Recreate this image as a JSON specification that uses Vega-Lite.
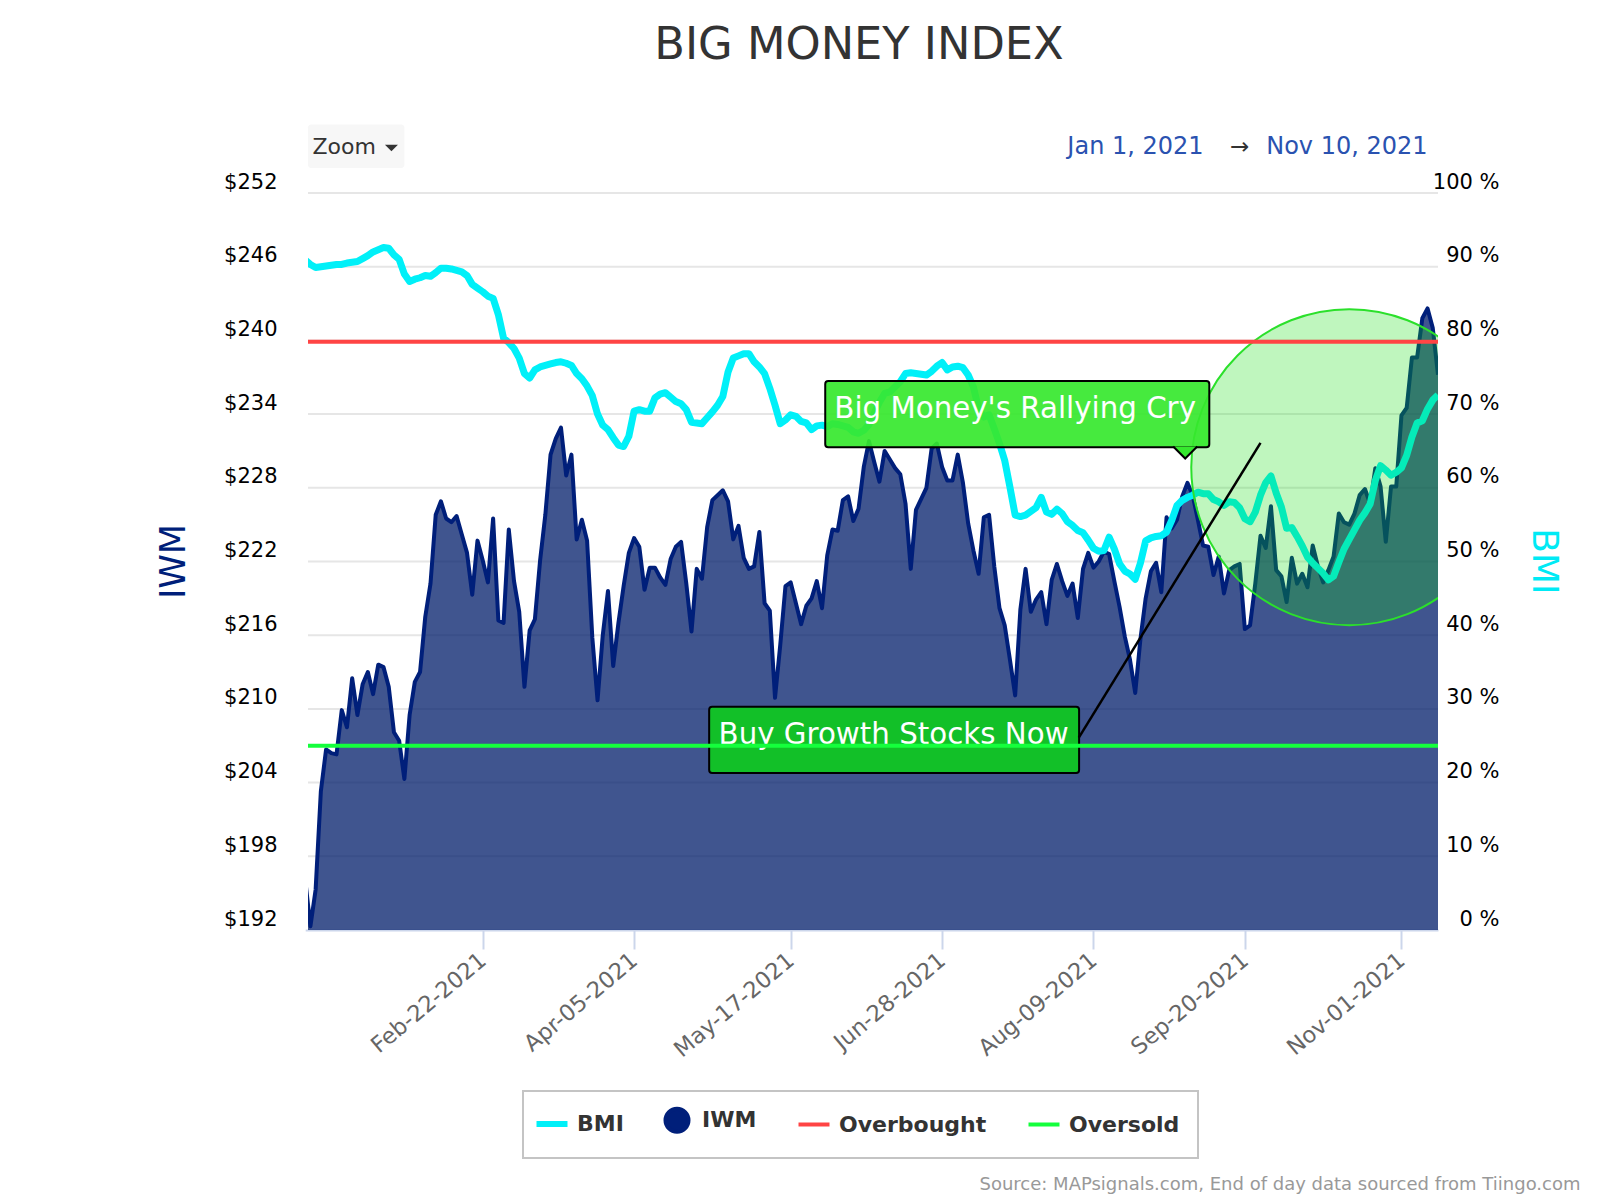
{"$schema":"https://vega.github.io/schema/vega-lite/v6.json","width":1130,"height":737,"autosize":{"type":"none"},"padding":{"left":308,"top":193,"right":162,"bottom":270},"background":"#ffffff",
"title":{"text":"BIG MONEY INDEX","font":"DejaVu Sans","fontSize":44.7,"fontWeight":"normal","color":"#333333","anchor":"middle","frame":"group","dx":-14,"offset":56},
"datasets":{"rows":[
{"date":"Dec-31-2020","iwm":196.1,"bmi":90.9},{"date":"Jan-04-2021","iwm":192.3,"bmi":90.3},{"date":"Jan-05-2021","iwm":195.3,"bmi":89.9},{"date":"Jan-06-2021","iwm":203.3,"bmi":90.0},{"date":"Jan-07-2021","iwm":206.7,"bmi":90.1},{"date":"Jan-08-2021","iwm":206.4,"bmi":90.2},{"date":"Jan-11-2021","iwm":206.3,"bmi":90.3},{"date":"Jan-12-2021","iwm":209.9,"bmi":90.3},{"date":"Jan-13-2021","iwm":208.5,"bmi":90.5},{"date":"Jan-14-2021","iwm":212.5,"bmi":90.6},{"date":"Jan-15-2021","iwm":209.5,"bmi":90.7},{"date":"Jan-19-2021","iwm":212.0,"bmi":91.1},{"date":"Jan-20-2021","iwm":213.0,"bmi":91.5},{"date":"Jan-21-2021","iwm":211.2,"bmi":92.0},{"date":"Jan-22-2021","iwm":213.6,"bmi":92.3},{"date":"Jan-25-2021","iwm":213.4,"bmi":92.6},{"date":"Jan-26-2021","iwm":211.8,"bmi":92.5},{"date":"Jan-27-2021","iwm":208.1,"bmi":91.6},{"date":"Jan-28-2021","iwm":207.4,"bmi":91.0},{"date":"Jan-29-2021","iwm":204.3,"bmi":89.0},
{"date":"Feb-01-2021","iwm":209.5,"bmi":88.0},{"date":"Feb-02-2021","iwm":212.2,"bmi":88.3},{"date":"Feb-03-2021","iwm":213.0,"bmi":88.5},{"date":"Feb-04-2021","iwm":217.5,"bmi":88.8},{"date":"Feb-05-2021","iwm":220.2,"bmi":88.7},{"date":"Feb-08-2021","iwm":225.8,"bmi":89.2},{"date":"Feb-09-2021","iwm":226.9,"bmi":89.8},{"date":"Feb-10-2021","iwm":225.5,"bmi":89.8},{"date":"Feb-11-2021","iwm":225.2,"bmi":89.7},{"date":"Feb-12-2021","iwm":225.7,"bmi":89.5},{"date":"Feb-16-2021","iwm":224.2,"bmi":89.3},{"date":"Feb-17-2021","iwm":222.7,"bmi":88.8},{"date":"Feb-18-2021","iwm":219.3,"bmi":87.6},{"date":"Feb-19-2021","iwm":223.7,"bmi":87.1},{"date":"Feb-22-2021","iwm":222.1,"bmi":86.6},{"date":"Feb-23-2021","iwm":220.3,"bmi":86.0},{"date":"Feb-24-2021","iwm":225.5,"bmi":85.7},{"date":"Feb-25-2021","iwm":217.2,"bmi":83.5},{"date":"Feb-26-2021","iwm":217.0,"bmi":80.3},
{"date":"Mar-01-2021","iwm":224.6,"bmi":79.7},{"date":"Mar-02-2021","iwm":220.4,"bmi":78.9},{"date":"Mar-03-2021","iwm":217.9,"bmi":77.6},{"date":"Mar-04-2021","iwm":211.8,"bmi":75.5},{"date":"Mar-05-2021","iwm":216.4,"bmi":74.9},{"date":"Mar-08-2021","iwm":217.3,"bmi":76.0},{"date":"Mar-09-2021","iwm":222.1,"bmi":76.4},{"date":"Mar-10-2021","iwm":225.8,"bmi":76.6},{"date":"Mar-11-2021","iwm":230.7,"bmi":76.8},{"date":"Mar-12-2021","iwm":232.0,"bmi":77.0},{"date":"Mar-15-2021","iwm":232.9,"bmi":77.1},{"date":"Mar-16-2021","iwm":229.0,"bmi":76.9},{"date":"Mar-17-2021","iwm":230.7,"bmi":76.6},{"date":"Mar-18-2021","iwm":223.8,"bmi":75.5},{"date":"Mar-19-2021","iwm":225.4,"bmi":74.8},{"date":"Mar-22-2021","iwm":223.7,"bmi":73.8},{"date":"Mar-23-2021","iwm":215.8,"bmi":72.5},{"date":"Mar-24-2021","iwm":210.7,"bmi":70.0},{"date":"Mar-25-2021","iwm":216.0,"bmi":68.5},{"date":"Mar-26-2021","iwm":219.6,"bmi":67.9},{"date":"Mar-29-2021","iwm":213.5,"bmi":66.8},{"date":"Mar-30-2021","iwm":217.0,"bmi":65.8},{"date":"Mar-31-2021","iwm":220.0,"bmi":65.6},
{"date":"Apr-01-2021","iwm":222.7,"bmi":67.0},{"date":"Apr-05-2021","iwm":223.9,"bmi":70.4},{"date":"Apr-06-2021","iwm":223.2,"bmi":70.6},{"date":"Apr-07-2021","iwm":219.7,"bmi":70.4},{"date":"Apr-08-2021","iwm":221.5,"bmi":70.4},{"date":"Apr-09-2021","iwm":221.5,"bmi":72.2},{"date":"Apr-12-2021","iwm":220.7,"bmi":72.7},{"date":"Apr-13-2021","iwm":220.1,"bmi":72.9},{"date":"Apr-14-2021","iwm":222.2,"bmi":72.3},{"date":"Apr-15-2021","iwm":223.2,"bmi":71.7},{"date":"Apr-16-2021","iwm":223.6,"bmi":71.4},{"date":"Apr-19-2021","iwm":220.2,"bmi":70.6},{"date":"Apr-20-2021","iwm":216.3,"bmi":68.9},{"date":"Apr-21-2021","iwm":221.4,"bmi":68.8},{"date":"Apr-22-2021","iwm":220.6,"bmi":68.7},{"date":"Apr-23-2021","iwm":224.8,"bmi":69.5},{"date":"Apr-26-2021","iwm":227.0,"bmi":70.3},{"date":"Apr-27-2021","iwm":227.4,"bmi":71.2},{"date":"Apr-28-2021","iwm":227.8,"bmi":72.4},{"date":"Apr-29-2021","iwm":226.9,"bmi":75.7},{"date":"Apr-30-2021","iwm":223.8,"bmi":77.6},
{"date":"May-03-2021","iwm":224.9,"bmi":77.9},{"date":"May-04-2021","iwm":222.3,"bmi":78.2},{"date":"May-05-2021","iwm":221.4,"bmi":78.2},{"date":"May-06-2021","iwm":221.6,"bmi":77.1},{"date":"May-07-2021","iwm":224.4,"bmi":76.4},{"date":"May-10-2021","iwm":218.6,"bmi":75.5},{"date":"May-11-2021","iwm":218.0,"bmi":73.5},{"date":"May-12-2021","iwm":210.9,"bmi":71.2},{"date":"May-13-2021","iwm":215.2,"bmi":68.7},{"date":"May-14-2021","iwm":220.0,"bmi":69.2},{"date":"May-17-2021","iwm":220.3,"bmi":69.9},{"date":"May-18-2021","iwm":218.6,"bmi":69.7},{"date":"May-19-2021","iwm":216.9,"bmi":69.0},{"date":"May-20-2021","iwm":218.4,"bmi":68.8},{"date":"May-21-2021","iwm":219.0,"bmi":67.9},{"date":"May-24-2021","iwm":220.4,"bmi":68.4},{"date":"May-25-2021","iwm":218.2,"bmi":68.5},{"date":"May-26-2021","iwm":222.5,"bmi":68.3},{"date":"May-27-2021","iwm":224.6,"bmi":68.7},{"date":"May-28-2021","iwm":224.5,"bmi":68.6},
{"date":"Jun-01-2021","iwm":227.0,"bmi":68.4},{"date":"Jun-02-2021","iwm":227.3,"bmi":68.2},{"date":"Jun-03-2021","iwm":225.3,"bmi":67.6},{"date":"Jun-04-2021","iwm":226.3,"bmi":67.4},{"date":"Jun-07-2021","iwm":229.7,"bmi":67.8},{"date":"Jun-08-2021","iwm":231.8,"bmi":68.6},{"date":"Jun-09-2021","iwm":230.1,"bmi":70.1},{"date":"Jun-10-2021","iwm":228.5,"bmi":71.6},{"date":"Jun-11-2021","iwm":231.0,"bmi":72.8},{"date":"Jun-14-2021","iwm":230.3,"bmi":73.0},{"date":"Jun-15-2021","iwm":229.6,"bmi":73.7},{"date":"Jun-16-2021","iwm":229.1,"bmi":74.4},{"date":"Jun-17-2021","iwm":226.7,"bmi":75.5},{"date":"Jun-18-2021","iwm":221.4,"bmi":75.6},{"date":"Jun-21-2021","iwm":226.2,"bmi":75.5},{"date":"Jun-22-2021","iwm":227.1,"bmi":75.4},{"date":"Jun-23-2021","iwm":228.0,"bmi":75.3},{"date":"Jun-24-2021","iwm":231.2,"bmi":75.8},{"date":"Jun-25-2021","iwm":231.6,"bmi":76.5},{"date":"Jun-28-2021","iwm":229.7,"bmi":77.0},{"date":"Jun-29-2021","iwm":228.6,"bmi":76.0},{"date":"Jun-30-2021","iwm":228.6,"bmi":76.4},
{"date":"Jul-01-2021","iwm":230.7,"bmi":76.5},{"date":"Jul-02-2021","iwm":228.4,"bmi":76.3},{"date":"Jul-06-2021","iwm":225.1,"bmi":75.3},{"date":"Jul-07-2021","iwm":222.9,"bmi":73.7},{"date":"Jul-08-2021","iwm":221.0,"bmi":70.7},{"date":"Jul-09-2021","iwm":225.6,"bmi":69.6},{"date":"Jul-12-2021","iwm":225.8,"bmi":69.9},{"date":"Jul-13-2021","iwm":221.6,"bmi":68.0},{"date":"Jul-14-2021","iwm":218.2,"bmi":66.0},{"date":"Jul-15-2021","iwm":216.8,"bmi":63.7},{"date":"Jul-16-2021","iwm":214.0,"bmi":60.1},{"date":"Jul-19-2021","iwm":211.1,"bmi":56.3},{"date":"Jul-20-2021","iwm":218.1,"bmi":56.1},{"date":"Jul-21-2021","iwm":221.4,"bmi":56.3},{"date":"Jul-22-2021","iwm":217.9,"bmi":56.8},{"date":"Jul-23-2021","iwm":218.9,"bmi":57.3},{"date":"Jul-26-2021","iwm":219.5,"bmi":58.7},{"date":"Jul-27-2021","iwm":216.9,"bmi":56.7},{"date":"Jul-28-2021","iwm":220.5,"bmi":56.4},{"date":"Jul-29-2021","iwm":221.8,"bmi":57.1},{"date":"Jul-30-2021","iwm":220.4,"bmi":56.5},
{"date":"Aug-02-2021","iwm":219.2,"bmi":55.4},{"date":"Aug-03-2021","iwm":220.2,"bmi":54.9},{"date":"Aug-04-2021","iwm":217.4,"bmi":54.2},{"date":"Aug-05-2021","iwm":221.4,"bmi":53.9},{"date":"Aug-06-2021","iwm":222.7,"bmi":52.9},{"date":"Aug-09-2021","iwm":221.5,"bmi":51.8},{"date":"Aug-10-2021","iwm":222.0,"bmi":51.4},{"date":"Aug-11-2021","iwm":222.8,"bmi":51.5},{"date":"Aug-12-2021","iwm":222.6,"bmi":53.3},{"date":"Aug-13-2021","iwm":220.4,"bmi":51.7},{"date":"Aug-16-2021","iwm":218.3,"bmi":49.7},{"date":"Aug-17-2021","iwm":215.9,"bmi":48.7},{"date":"Aug-18-2021","iwm":214.0,"bmi":48.3},{"date":"Aug-19-2021","iwm":211.3,"bmi":47.6},{"date":"Aug-20-2021","iwm":215.7,"bmi":49.8},{"date":"Aug-23-2021","iwm":219.0,"bmi":52.8},{"date":"Aug-24-2021","iwm":221.2,"bmi":53.2},{"date":"Aug-25-2021","iwm":221.9,"bmi":53.4},{"date":"Aug-26-2021","iwm":219.5,"bmi":53.5},{"date":"Aug-27-2021","iwm":225.6,"bmi":54.0},{"date":"Aug-30-2021","iwm":224.7,"bmi":55.6},{"date":"Aug-31-2021","iwm":225.4,"bmi":57.6},
{"date":"Sep-01-2021","iwm":227.3,"bmi":58.3},{"date":"Sep-02-2021","iwm":228.4,"bmi":58.7},{"date":"Sep-03-2021","iwm":227.4,"bmi":59.0},{"date":"Sep-07-2021","iwm":225.4,"bmi":59.4},{"date":"Sep-08-2021","iwm":223.3,"bmi":59.2},{"date":"Sep-09-2021","iwm":223.2,"bmi":59.2},{"date":"Sep-10-2021","iwm":220.9,"bmi":58.4},{"date":"Sep-13-2021","iwm":222.4,"bmi":58.1},{"date":"Sep-14-2021","iwm":219.4,"bmi":57.6},{"date":"Sep-15-2021","iwm":221.3,"bmi":58.1},{"date":"Sep-16-2021","iwm":221.6,"bmi":58.0},{"date":"Sep-17-2021","iwm":221.8,"bmi":57.3},{"date":"Sep-20-2021","iwm":216.5,"bmi":55.8},{"date":"Sep-21-2021","iwm":216.8,"bmi":55.4},{"date":"Sep-22-2021","iwm":220.2,"bmi":56.7},{"date":"Sep-23-2021","iwm":224.1,"bmi":59.0},{"date":"Sep-24-2021","iwm":223.1,"bmi":60.7},{"date":"Sep-27-2021","iwm":226.5,"bmi":61.6},{"date":"Sep-28-2021","iwm":221.3,"bmi":59.3},{"date":"Sep-29-2021","iwm":220.8,"bmi":57.4},{"date":"Sep-30-2021","iwm":218.7,"bmi":54.5},
{"date":"Oct-01-2021","iwm":222.3,"bmi":54.6},{"date":"Oct-04-2021","iwm":220.2,"bmi":53.4},{"date":"Oct-05-2021","iwm":221.0,"bmi":52.1},{"date":"Oct-06-2021","iwm":219.9,"bmi":50.6},{"date":"Oct-07-2021","iwm":223.3,"bmi":49.8},{"date":"Oct-08-2021","iwm":221.6,"bmi":49.1},{"date":"Oct-11-2021","iwm":220.3,"bmi":48.4},{"date":"Oct-12-2021","iwm":221.3,"bmi":47.5},{"date":"Oct-13-2021","iwm":222.4,"bmi":48.0},{"date":"Oct-14-2021","iwm":225.9,"bmi":49.9},{"date":"Oct-15-2021","iwm":225.2,"bmi":51.7},{"date":"Oct-18-2021","iwm":225.0,"bmi":53.0},{"date":"Oct-19-2021","iwm":225.9,"bmi":54.3},{"date":"Oct-20-2021","iwm":227.4,"bmi":55.6},{"date":"Oct-21-2021","iwm":227.9,"bmi":56.6},{"date":"Oct-22-2021","iwm":226.7,"bmi":57.8},{"date":"Oct-25-2021","iwm":229.6,"bmi":61.0},{"date":"Oct-26-2021","iwm":228.1,"bmi":63.0},{"date":"Oct-27-2021","iwm":223.6,"bmi":62.4},{"date":"Oct-28-2021","iwm":228.1,"bmi":61.7},{"date":"Oct-29-2021","iwm":228.1,"bmi":62.1},
{"date":"Nov-01-2021","iwm":233.9,"bmi":62.7},{"date":"Nov-02-2021","iwm":234.5,"bmi":64.4},{"date":"Nov-03-2021","iwm":238.6,"bmi":66.9},{"date":"Nov-04-2021","iwm":238.6,"bmi":68.8},{"date":"Nov-05-2021","iwm":241.8,"bmi":69.1},{"date":"Nov-08-2021","iwm":242.6,"bmi":70.7},{"date":"Nov-09-2021","iwm":241.0,"bmi":71.9},{"date":"Nov-10-2021","iwm":237.2,"bmi":72.6}
]},
"encoding":{"x":{"field":"date","type":"ordinal","title":"Source: MAPsignals.com, End of day data sourced from Tiingo.com",
"scale":{"type":"point","padding":0,"range":[-2.8,1130],"domain":["Dec-31-2020","Jan-04-2021","Jan-05-2021","Jan-06-2021","Jan-07-2021","Jan-08-2021","Jan-11-2021","Jan-12-2021","Jan-13-2021","Jan-14-2021","Jan-15-2021","Jan-19-2021","Jan-20-2021","Jan-21-2021","Jan-22-2021","Jan-25-2021","Jan-26-2021","Jan-27-2021","Jan-28-2021","Jan-29-2021","Feb-01-2021","Feb-02-2021","Feb-03-2021","Feb-04-2021","Feb-05-2021","Feb-08-2021","Feb-09-2021","Feb-10-2021","Feb-11-2021","Feb-12-2021","Feb-16-2021","Feb-17-2021","Feb-18-2021","Feb-19-2021","Feb-22-2021","Feb-23-2021","Feb-24-2021","Feb-25-2021","Feb-26-2021","Mar-01-2021","Mar-02-2021","Mar-03-2021","Mar-04-2021","Mar-05-2021","Mar-08-2021","Mar-09-2021","Mar-10-2021","Mar-11-2021","Mar-12-2021","Mar-15-2021","Mar-16-2021","Mar-17-2021","Mar-18-2021","Mar-19-2021","Mar-22-2021","Mar-23-2021","Mar-24-2021","Mar-25-2021","Mar-26-2021","Mar-29-2021","Mar-30-2021","Mar-31-2021","Apr-01-2021","Apr-05-2021","Apr-06-2021","Apr-07-2021","Apr-08-2021","Apr-09-2021","Apr-12-2021","Apr-13-2021","Apr-14-2021","Apr-15-2021","Apr-16-2021","Apr-19-2021","Apr-20-2021","Apr-21-2021","Apr-22-2021","Apr-23-2021","Apr-26-2021","Apr-27-2021","Apr-28-2021","Apr-29-2021","Apr-30-2021","May-03-2021","May-04-2021","May-05-2021","May-06-2021","May-07-2021","May-10-2021","May-11-2021","May-12-2021","May-13-2021","May-14-2021","May-17-2021","May-18-2021","May-19-2021","May-20-2021","May-21-2021","May-24-2021","May-25-2021","May-26-2021","May-27-2021","May-28-2021","Jun-01-2021","Jun-02-2021","Jun-03-2021","Jun-04-2021","Jun-07-2021","Jun-08-2021","Jun-09-2021","Jun-10-2021","Jun-11-2021","Jun-14-2021","Jun-15-2021","Jun-16-2021","Jun-17-2021","Jun-18-2021","Jun-21-2021","Jun-22-2021","Jun-23-2021","Jun-24-2021","Jun-25-2021","Jun-28-2021","Jun-29-2021","Jun-30-2021","Jul-01-2021","Jul-02-2021","Jul-06-2021","Jul-07-2021","Jul-08-2021","Jul-09-2021","Jul-12-2021","Jul-13-2021","Jul-14-2021","Jul-15-2021","Jul-16-2021","Jul-19-2021","Jul-20-2021","Jul-21-2021","Jul-22-2021","Jul-23-2021","Jul-26-2021","Jul-27-2021","Jul-28-2021","Jul-29-2021","Jul-30-2021","Aug-02-2021","Aug-03-2021","Aug-04-2021","Aug-05-2021","Aug-06-2021","Aug-09-2021","Aug-10-2021","Aug-11-2021","Aug-12-2021","Aug-13-2021","Aug-16-2021","Aug-17-2021","Aug-18-2021","Aug-19-2021","Aug-20-2021","Aug-23-2021","Aug-24-2021","Aug-25-2021","Aug-26-2021","Aug-27-2021","Aug-30-2021","Aug-31-2021","Sep-01-2021","Sep-02-2021","Sep-03-2021","Sep-07-2021","Sep-08-2021","Sep-09-2021","Sep-10-2021","Sep-13-2021","Sep-14-2021","Sep-15-2021","Sep-16-2021","Sep-17-2021","Sep-20-2021","Sep-21-2021","Sep-22-2021","Sep-23-2021","Sep-24-2021","Sep-27-2021","Sep-28-2021","Sep-29-2021","Sep-30-2021","Oct-01-2021","Oct-04-2021","Oct-05-2021","Oct-06-2021","Oct-07-2021","Oct-08-2021","Oct-11-2021","Oct-12-2021","Oct-13-2021","Oct-14-2021","Oct-15-2021","Oct-18-2021","Oct-19-2021","Oct-20-2021","Oct-21-2021","Oct-22-2021","Oct-25-2021","Oct-26-2021","Oct-27-2021","Oct-28-2021","Oct-29-2021","Nov-01-2021","Nov-02-2021","Nov-03-2021","Nov-04-2021","Nov-05-2021","Nov-08-2021","Nov-09-2021","Nov-10-2021"]},
"axis":{"values":["Feb-22-2021","Apr-05-2021","May-17-2021","Jun-28-2021","Aug-09-2021","Sep-20-2021","Nov-01-2021"],"grid":false,"domain":true,"domainColor":"#ccd6eb","domainWidth":2,"ticks":true,"tickColor":"#ccd6eb","tickWidth":2,"tickSize":19,"labelAngle":-40,"labelAlign":"right","labelBaseline":"middle","labelFont":"DejaVu Sans","labelFontSize":22.5,"labelColor":"#666666","labelPadding":8,"labelOverlap":false,"titleFont":"DejaVu Sans","titleFontSize":18,"titleFontWeight":"normal","titleColor":"#999999","titleAlign":"right","titleAnchor":null,"titleX":1272,"titleY":254,"titleBaseline":"middle"}}},
"layer":[
{"layer":[
{"data":{"values":[{"g":198},{"g":204},{"g":210},{"g":216},{"g":222},{"g":228},{"g":234},{"g":240},{"g":246},{"g":252}]},"mark":{"type":"rule","color":"#e6e6e6","strokeWidth":2},"encoding":{"x":null,"y":{"field":"g","type":"quantitative"}}},
{"data":{"name":"rows"},"mark":{"type":"area","clip":true,"fill":"#001c6a","fillOpacity":0.75,"stroke":null},"encoding":{"y":{"field":"iwm","type":"quantitative","scale":{"domain":[192,252],"nice":false,"zero":false},"axis":{"orient":"left","title":"IWM","values":[192,198,204,210,216,222,228,234,240,246,252],"format":"$.0f","grid":false,"domain":false,"ticks":false,"labelFont":"DejaVu Sans","labelFontSize":21,"labelColor":"#000000","labelPadding":31,"labelOffset":-11,"titleFont":"DejaVu Sans","titleFontSize":35,"titleFontWeight":"normal","titleColor":"#001f7a","titleX":-135,"titleY":368,"titleAngle":-90,"titleBaseline":"middle","titleAlign":"center"}}}},
{"data":{"name":"rows"},"mark":{"type":"line","clip":true,"strokeWidth":4,"strokeJoin":"round"},"encoding":{"y":{"field":"iwm","type":"quantitative"},"color":{"datum":"IWM","type":"nominal","scale":{"domain":["BMI","IWM","Overbought","Oversold"],"range":["#00f0f8","#001f7a","#ff4444","#14ff3c"]},"legend":{"orient":"none","legendX":215,"legendY":898,"direction":"horizontal","columns":4,"title":null,"symbolType":"stroke","symbolSize":529,"symbolStrokeWidth":4,"labelFont":"DejaVu Sans","labelFontWeight":"bold","labelFontSize":22,"labelColor":"#333333","fillColor":"#ffffff","strokeColor":"#c4c4c4","padding":18,"columnPadding":33,"labelOffset":14,"encoding":{"legend":{"strokeWidth":{"value":2}},"symbols":{"shape":{"value":{"signal":"datum.value==='IWM'?'circle':'stroke'"}},"size":{"value":{"signal":"datum.value==='IWM'?529:961"}},"strokeWidth":{"value":{"signal":"datum.value==='BMI'?6:4"}},"fill":{"value":{"signal":"datum.value==='IWM'?'#001f7a':'transparent'"}}}}}}}}
]},
{"layer":[
{"data":{"name":"rows"},"mark":{"type":"line","clip":true,"strokeWidth":7,"strokeJoin":"round"},"encoding":{"y":{"field":"bmi","type":"quantitative","scale":{"domain":[0,100],"nice":false},"axis":{"orient":"right","title":"BMI","values":[0,10,20,30,40,50,60,70,80,90,100],"labelExpr":"datum.value + ' %'","grid":false,"domain":false,"ticks":false,"labelFont":"DejaVu Sans","labelFontSize":21,"labelColor":"#000000","labelAlign":"right","labelPadding":61,"labelOffset":-11,"titleFont":"DejaVu Sans","titleFontSize":36,"titleFontWeight":"normal","titleColor":"#00eaf5","titleX":105,"titleY":368,"titleAngle":90,"titleBaseline":"middle","titleAlign":"center"}},
"color":{"datum":"BMI","type":"nominal","scale":{"domain":["BMI","IWM","Overbought","Oversold"],"range":["#00f0f8","#001f7a","#ff4444","#14ff3c"]}}}},
{"data":{"values":[{}]},"mark":{"type":"point","clip":true,"shape":"circle","filled":true,"size":99856,"fill":"#12de10","fillOpacity":0.27,"stroke":"#2be02b","strokeWidth":2,"strokeOpacity":1},"encoding":{"x":{"datum":"Oct-18-2021","type":"ordinal"},"y":{"datum":62.8,"type":"quantitative"}}},
{"data":{"values":[{}]},"mark":{"type":"rect","fill":"#12c028","stroke":"#000000","strokeWidth":2,"cornerRadius":3,"xOffset":2,"x2Offset":1.3},"encoding":{"x":{"datum":"Apr-23-2021","type":"ordinal"},"x2":{"datum":"Aug-04-2021"},"y":{"datum":30.3,"type":"quantitative"},"y2":{"datum":21.3}}},
{"data":{"values":[{}]},"mark":{"type":"rect","fill":"#36e82e","fillOpacity":0.92,"stroke":"#000000","strokeWidth":2,"cornerRadius":3,"xOffset":-2,"x2Offset":1},"encoding":{"x":{"datum":"May-26-2021","type":"ordinal"},"x2":{"datum":"Sep-09-2021"},"y":{"datum":74.5,"type":"quantitative"},"y2":{"datum":65.5}}},
{"data":{"values":[{}]},"mark":{"type":"point","shape":"M-1,0L0,1L1,0","filled":true,"size":576,"fill":"#36e82e","fillOpacity":1,"stroke":"#000000","strokeWidth":2,"strokeOpacity":1,"xOffset":3},"encoding":{"x":{"datum":"Sep-01-2021","type":"ordinal"},"y":{"datum":65.6,"type":"quantitative"}}},
{"data":{"values":[{}]},"mark":{"type":"text","text":"Big Money's Rallying Cry","font":"DejaVu Sans","fontSize":29.3,"color":"#ffffff","align":"center","baseline":"alphabetic"},"encoding":{"x":{"datum":"Jul-19-2021","type":"ordinal"},"y":{"datum":69.5,"type":"quantitative"}}},
{"data":{"values":[{}]},"mark":{"type":"text","text":"Buy Growth Stocks Now","font":"DejaVu Sans","fontSize":29.3,"color":"#ffffff","align":"center","baseline":"alphabetic","xOffset":-1.5},"encoding":{"x":{"datum":"Jun-15-2021","type":"ordinal"},"y":{"datum":25.3,"type":"quantitative"}}},
{"data":{"values":[{}]},"mark":{"type":"rule","color":"#000000","strokeWidth":2.5,"xOffset":1},"encoding":{"x":{"datum":"Aug-04-2021","type":"ordinal"},"x2":{"datum":"Sep-23-2021"},"y":{"datum":26.1,"type":"quantitative"},"y2":{"datum":66.1}}},
{"data":{"values":[{}]},"mark":{"type":"rule","strokeWidth":4},"encoding":{"x":null,"y":{"datum":79.8,"type":"quantitative"},"color":{"datum":"Overbought","type":"nominal","scale":{"domain":["BMI","IWM","Overbought","Oversold"],"range":["#00f0f8","#001f7a","#ff4444","#14ff3c"]}}}},
{"data":{"values":[{}]},"mark":{"type":"rule","strokeWidth":4},"encoding":{"x":null,"y":{"datum":25,"type":"quantitative"},"color":{"datum":"Oversold","type":"nominal","scale":{"domain":["BMI","IWM","Overbought","Oversold"],"range":["#00f0f8","#001f7a","#ff4444","#14ff3c"]}}}},
{"data":{"values":[{}]},"mark":{"type":"rect","fill":"#f7f7f7","cornerRadius":3,"xOffset":2.8},"encoding":{"x":{"datum":"Dec-31-2020","type":"ordinal"},"x2":{"datum":"Jan-29-2021"},"y":{"datum":109.3,"type":"quantitative"},"y2":{"datum":103.4}}},
{"data":{"values":[{}]},"mark":{"type":"text","text":"Zoom","font":"DejaVu Sans","fontSize":22,"color":"#333333","align":"left","baseline":"middle","xOffset":2},"encoding":{"x":{"datum":"Jan-04-2021","type":"ordinal"},"y":{"datum":106.3,"type":"quantitative"}}},
{"data":{"values":[{}]},"mark":{"type":"point","shape":"M-1,-0.5L1,-0.5L0,0.5Z","filled":true,"size":169,"fill":"#333333","fillOpacity":1,"xOffset":-2.5},"encoding":{"x":{"datum":"Jan-27-2021","type":"ordinal"},"y":{"datum":106.1,"type":"quantitative"}}},
{"data":{"values":[{}]},"mark":{"type":"text","text":"Jan 1, 2021","font":"DejaVu Sans","fontSize":24,"color":"#2a52b0","align":"left","baseline":"middle"},"encoding":{"x":{"datum":"Aug-02-2021","type":"ordinal"},"y":{"datum":106.3,"type":"quantitative"}}},
{"data":{"values":[{}]},"mark":{"type":"text","text":"→","font":"DejaVu Sans","fontSize":23,"color":"#333333","align":"center","baseline":"middle"},"encoding":{"x":{"datum":"Sep-17-2021","type":"ordinal"},"y":{"datum":106.3,"type":"quantitative"}}},
{"data":{"values":[{}]},"mark":{"type":"text","text":"Nov 10, 2021","font":"DejaVu Sans","fontSize":24,"color":"#2a52b0","align":"right","baseline":"middle"},"encoding":{"x":{"datum":"Nov-08-2021","type":"ordinal"},"y":{"datum":106.3,"type":"quantitative"}}}
]}
],
"resolve":{"scale":{"y":"independent"},"axis":{"y":"independent"}},
"config":{"view":{"stroke":null}}}
